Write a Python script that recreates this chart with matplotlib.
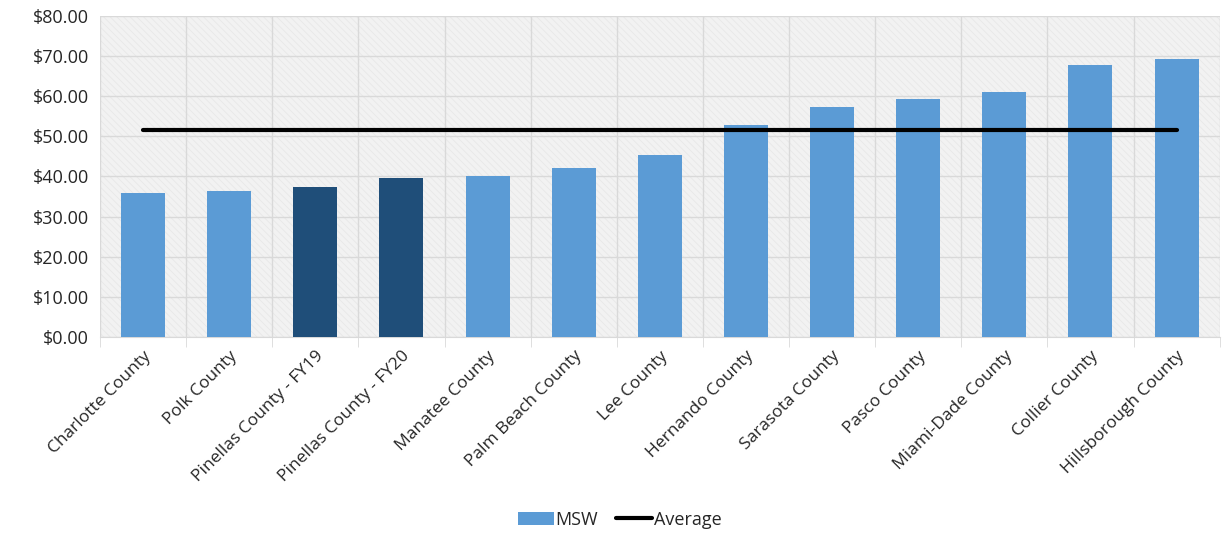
import matplotlib.pyplot as plt
import numpy as np
from matplotlib.ticker import FuncFormatter, MultipleLocator

# ── Datos ─────────────────────────────────────────────────────────
COUNTIES = [
    "Charlotte County", "Polk County", "Pinellas County - FY19",
    "Pinellas County - FY20", "Manatee County", "Palm Beach County",
    "Lee County", "Hernando County", "Sarasota County", "Pasco County",
    "Miami-Dade County", "Collier County", "Hillsborough County",
]
MSW = [35.9, 36.4, 37.4, 39.6, 40.0, 42.0, 45.4, 52.9, 57.4, 59.2, 61.0, 67.9, 69.3]
AVERAGE = [51.6] * len(COUNTIES)
HIGHLIGHT = ["Pinellas County - FY19", "Pinellas County - FY20"]

# ── Paleta ────────────────────────────────────────────────────────
C_BAR = "#5B9BD5"
C_BAR_DARK = "#1F4E79"
C_BG = "#F2F2F2"
C_GRID = "#D9D9D9"
C_TXT = "#262626"

plt.rcParams["font.family"] = ["Open Sans", "DejaVu Sans"]
plt.rcParams["hatch.linewidth"] = 0.5

fig = plt.figure(figsize=(12.27, 5.33), dpi=100)
ax = fig.add_axes([0.0815, 0.368, 0.9125, 0.602])
ax.set_facecolor(C_BG)
ax.patch.set_hatch("\\\\\\\\\\")
ax.patch.set_edgecolor("#E6E6E6")
ax.patch.set_linewidth(0)

x = np.arange(len(COUNTIES))
colors = [C_BAR_DARK if c in HIGHLIGHT else C_BAR for c in COUNTIES]
bars = ax.bar(x, MSW, width=0.51, color=colors, zorder=3)
line, = ax.plot(x, AVERAGE, color="black", lw=3, solid_capstyle="round", zorder=4)

ax.set_xlim(-0.5, len(COUNTIES) - 0.5)
ax.set_ylim(0, 80)
ax.yaxis.set_major_locator(MultipleLocator(10))
ax.yaxis.set_major_formatter(FuncFormatter(lambda v, _: f"${v:.2f}"))

# Rejilla: horizontales cada $10 y verticales entre categorías
ax.set_xticks(x)
ax.set_xticks(np.arange(-0.5, len(COUNTIES), 1), minor=True)
ax.set_xticklabels(COUNTIES, rotation=45, ha="right", rotation_mode="anchor",
                   fontsize=12.5, color=C_TXT)
ax.grid(axis="y", color=C_GRID, lw=1, zorder=1)
ax.grid(axis="x", which="minor", color=C_GRID, lw=1, zorder=1)
ax.tick_params(axis="x", which="major", length=0, pad=8)
ax.tick_params(axis="x", which="minor", length=7, color=C_GRID)
ax.tick_params(axis="y", length=0, labelsize=13, labelcolor=C_TXT, pad=8)

for side in ["top", "right", "left"]:
    ax.spines[side].set_visible(False)
ax.spines["bottom"].set_color(C_GRID)

fig.legend([bars, line], ["MSW", "Average"], loc="center",
           bbox_to_anchor=(0.505, 0.025), ncol=2, frameon=False,
           fontsize=13, handlelength=2.0, handletextpad=0.1, columnspacing=1.0,
           labelcolor=C_TXT)

fig.savefig("out.png", dpi=100, facecolor="white")
